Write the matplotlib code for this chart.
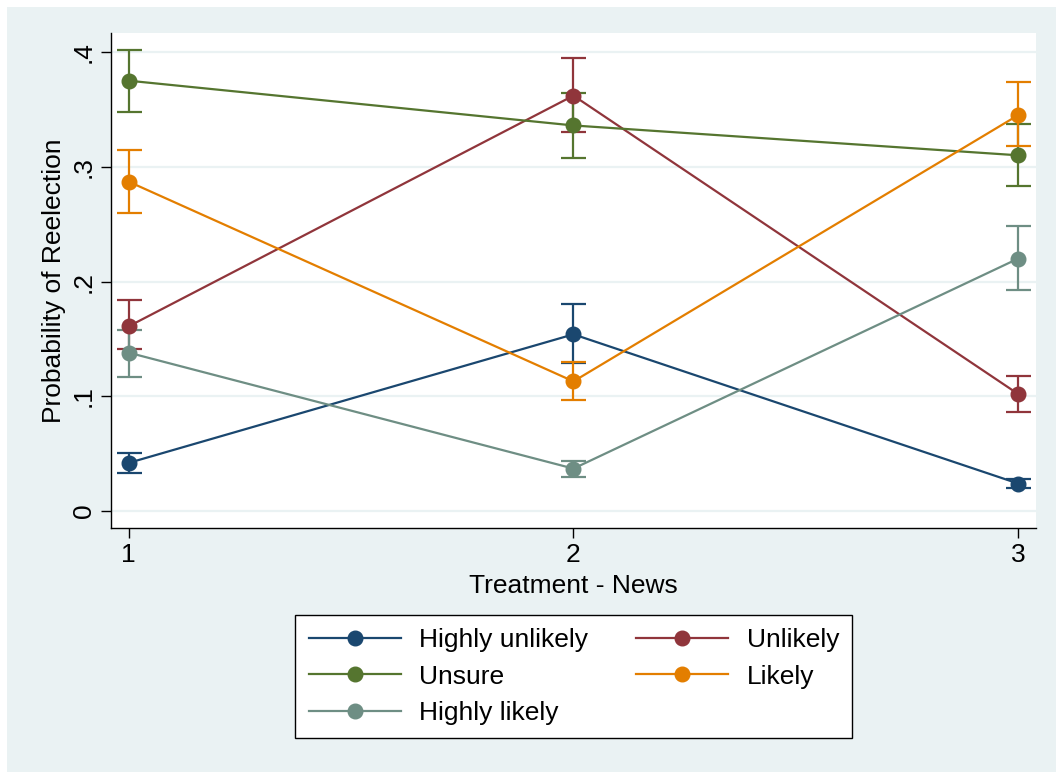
import numpy as np
import matplotlib
matplotlib.use("Agg")
import matplotlib.pyplot as plt
from matplotlib.patches import Rectangle

plt.rcParams['font.family'] = ['Liberation Sans', 'DejaVu Sans']

treatments = [1, 2, 3]
labels = ["Highly unlikely", "Unlikely", "Unsure", "Likely", "Highly likely"]
colors = ["#1A476F", "#90353B", "#55752F", "#E37E00", "#6E8E84"]

# point estimates
highly_unlikely = [0.042, 0.154, 0.024]
unlikely = [0.161, 0.362, 0.102]
unsure = [0.375, 0.336, 0.310]
likely = [0.287, 0.113, 0.345]
highly_likely = [0.138, 0.037, 0.220]

# confidence intervals (low, high)
hu_lo = [0.033, 0.129, 0.020]
hu_hi = [0.051, 0.180, 0.028]
u_lo = [0.141, 0.330, 0.086]
u_hi = [0.184, 0.395, 0.118]
un_lo = [0.348, 0.308, 0.283]
un_hi = [0.402, 0.364, 0.337]
l_lo = [0.260, 0.097, 0.318]
l_hi = [0.315, 0.130, 0.374]
hl_lo = [0.117, 0.030, 0.193]
hl_hi = [0.158, 0.044, 0.248]

series = [highly_unlikely, unlikely, unsure, likely, highly_likely]
lows = [hu_lo, u_lo, un_lo, l_lo, hl_lo]
highs = [hu_hi, u_hi, un_hi, l_hi, hl_hi]

bg = "#EAF2F3"
fs = 19
fig = plt.figure(figsize=(10.56, 7.72), dpi=100, facecolor="white")
# Stata graph region (thin white edge at left and top)
fig.patches.append(Rectangle((7 / 1056, 0), 1, 1 - 7 / 772, transform=fig.transFigure,
                             facecolor=bg, edgecolor='none', zorder=-10))

ax = fig.add_axes([0.1051, 0.316, 0.8759, 0.6413])
ax.set_facecolor("white")

handles = []
for y, lo, hi, c, lab in zip(series, lows, highs, colors, labels):
    y = np.array(y)
    err = [y - np.array(lo), np.array(hi) - y]
    ax.errorbar(treatments, y, yerr=err, fmt='none', ecolor=c, elinewidth=1.6,
                capsize=9, capthick=1.6, zorder=2)
    ln, = ax.plot(treatments, y, color=c, lw=1.6, marker='o', markersize=10.5,
                  label=lab, zorder=3)
    handles.append(ln)

ax.set_xlim(0.96, 3.04)
ax.set_ylim(-0.0148, 0.4166)
ax.set_xticks(treatments)
ax.set_xticklabels(["1", "2", "3"], fontsize=fs)
yt = [0, 0.1, 0.2, 0.3, 0.4]
ax.set_yticks(yt)
ax.set_yticklabels(["0", ".1", ".2", ".3", ".4"], fontsize=fs, rotation=90, va='center')
ax.grid(axis='y', color=bg, lw=1.6)
ax.set_axisbelow(True)
for s in ['top', 'right']:
    ax.spines[s].set_visible(False)
ax.spines['left'].set_linewidth(1.0)
ax.spines['bottom'].set_linewidth(1.0)
ax.tick_params(length=7, width=1.0, pad=4)
ax.set_xlabel("Treatment - News", fontsize=fs, labelpad=5)
ax.set_ylabel("Probability of Reelection", fontsize=fs, labelpad=4)

# legend filled row by row like Stata: reorder for column-major layout
order = [0, 2, 4, 1, 3]
leg = fig.legend([handles[i] for i in order], [labels[i] for i in order],
                 loc='center', bbox_to_anchor=(0.5435, 0.1237), ncol=2,
                 fontsize=fs, frameon=True, fancybox=False, edgecolor='black',
                 facecolor='white', framealpha=1.0,
                 handlelength=3.5, columnspacing=1.8, labelspacing=0.48,
                 borderpad=0.5, handletextpad=0.7)
leg.get_frame().set_linewidth(1.0)

fig.savefig("out.png", dpi=100, facecolor="white")
